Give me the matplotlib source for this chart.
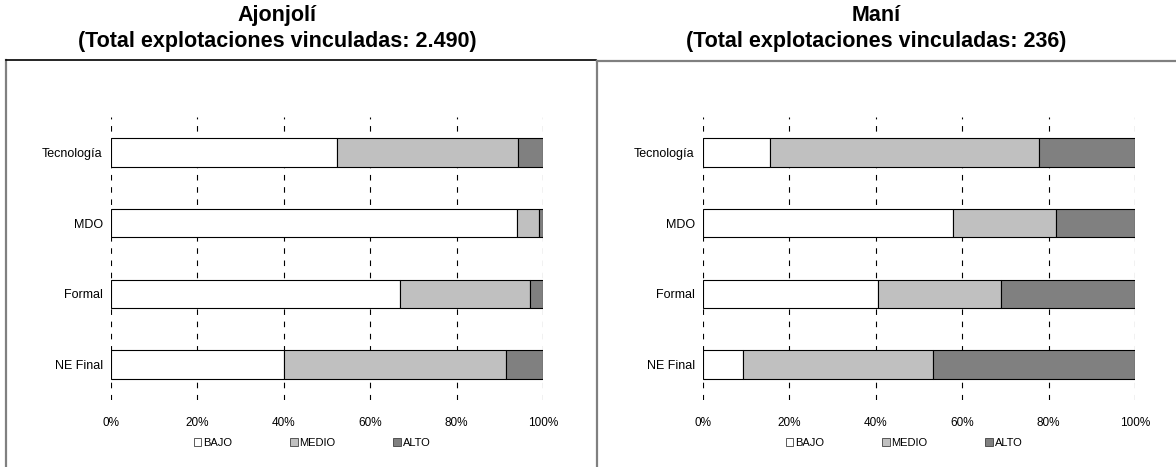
import matplotlib
matplotlib.use("Agg")
import matplotlib.pyplot as plt
from matplotlib.patches import Patch
from matplotlib.lines import Line2D

plt.rcParams['font.family'] = ['Liberation Sans', 'DejaVu Sans']

categorias = ['Tecnología', 'MDO', 'Formal', 'NE Final']
niveles = ['BAJO', 'MEDIO', 'ALTO']
colores = ['#ffffff', '#c0c0c0', '#808080']

# porcentajes por nivel (BAJO, MEDIO, ALTO)
ajonjoli_bajo = [52.4, 94.0, 66.8, 40.0]
ajonjoli_medio = [41.8, 5.1, 30.2, 51.5]
ajonjoli_alto = [5.8, 0.9, 3.0, 8.5]

mani_bajo = [15.6, 57.9, 40.5, 9.2]
mani_medio = [62.2, 23.7, 28.5, 44.1]
mani_alto = [22.2, 18.4, 31.0, 46.7]

titulo_izq = 'Ajonjolí\n(Total explotaciones vinculadas: 2.490)'
titulo_der = 'Maní\n(Total explotaciones vinculadas: 236)'
ticks_x = ['0%', '20%', '40%', '60%', '80%', '100%']

W, H = 1176, 467
fig = plt.figure(figsize=(W / 100, H / 100), dpi=100)


def panel(x0, datos, titulo, tx):
    ax = fig.add_axes([x0 / W, 1 - 400 / H, 432 / W, 283 / H])
    y = list(range(len(categorias)))
    izq = [0] * len(categorias)
    for serie, color in zip(datos, colores):
        ax.barh(y, serie, left=izq, height=0.4, color=color,
                edgecolor='black', linewidth=0.8, zorder=2)
        izq = [a + b for a, b in zip(izq, serie)]
    ax.set_xlim(0, 100)
    ax.set_ylim(3.5, -0.5)
    ax.set_yticks(y)
    ax.set_yticklabels(categorias, fontsize=9)
    ax.set_xticks([0, 20, 40, 60, 80, 100])
    ax.set_xticklabels(ticks_x, fontsize=8.5)
    ax.tick_params(length=0)
    ax.tick_params(axis='y', pad=6)
    ax.tick_params(axis='x', pad=12)
    for s in ax.spines.values():
        s.set_visible(False)
    ax.set_axisbelow(True)
    ax.xaxis.grid(True, color='black', linewidth=0.8, linestyle=(0, (5, 6)))
    fig.text(tx / W, 1 - 5 / H, titulo, ha='center', va='top',
             fontsize=15.5, fontweight='bold', multialignment='center',
             linespacing=1.3)
    handles = [Patch(facecolor=c, edgecolor='#404040', linewidth=0.6) for c in colores]
    ax.legend(handles, niveles, loc='center', ncol=3,
              bbox_to_anchor=((x0 + 201) / W, 1 - 443 / H),
              bbox_transform=fig.transFigure, frameon=False, fontsize=8,
              handlelength=0.7, handleheight=0.7, handletextpad=0.15,
              columnspacing=5.2, borderaxespad=0, borderpad=0)
    return ax


panel(111, [ajonjoli_bajo, ajonjoli_medio, ajonjoli_alto], titulo_izq, 277)
panel(703, [mani_bajo, mani_medio, mani_alto], titulo_der, 876)

# marcos de los graficos
fig.add_artist(Line2D([5.5 / W, 5.5 / W], [0, 1 - 60 / H], color='#808080', linewidth=1.6))
fig.add_artist(Line2D([5.5 / W, 596 / W], [1 - 60 / H, 1 - 60 / H], color='black', linewidth=1.2))
fig.add_artist(Line2D([597 / W, 597 / W], [0, 1 - 61 / H], color='#808080', linewidth=1.6))
fig.add_artist(Line2D([597 / W, 1], [1 - 61 / H, 1 - 61 / H], color='#808080', linewidth=1.6))

fig.savefig('out.png', dpi=100)
